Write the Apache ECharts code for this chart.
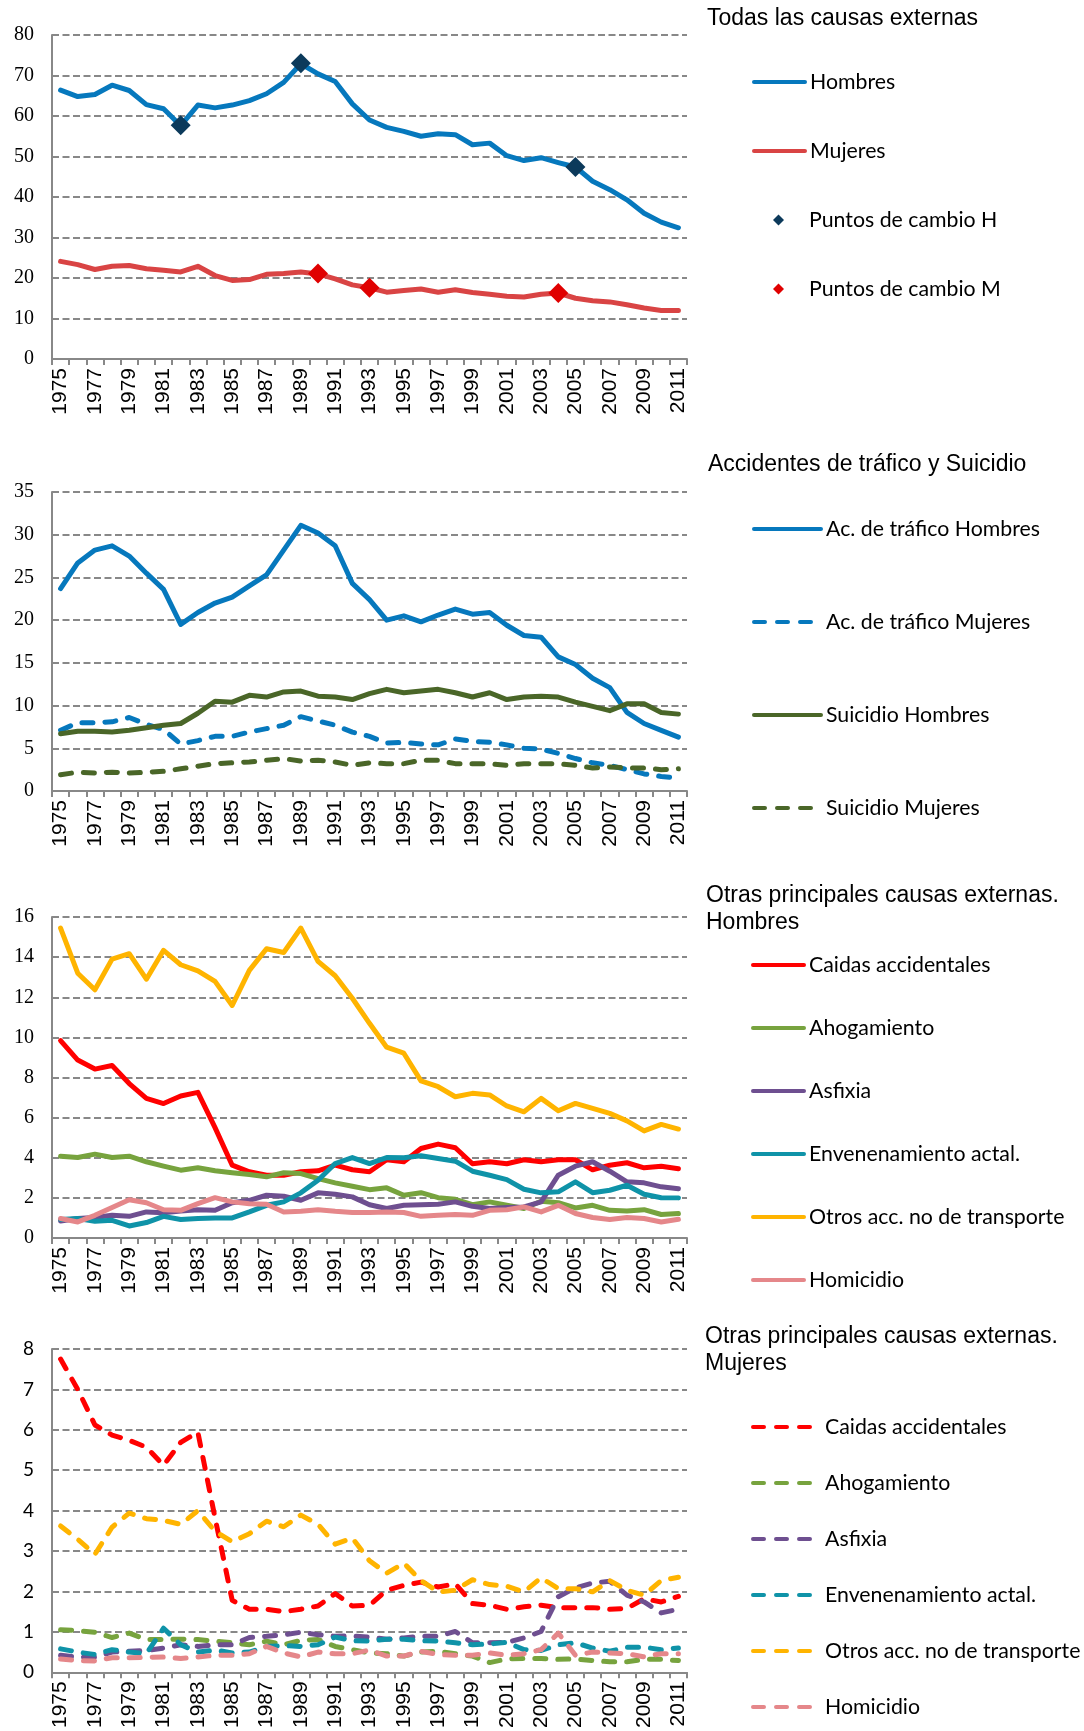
<!DOCTYPE html>
<html>
<head>
<meta charset="utf-8">
<script src="https://cdn.jsdelivr.net/npm/echarts@6/dist/echarts.min.js"></script>
<style>html,body{margin:0;padding:0;background:#fff;}#c{width:1084px;height:1731px;}</style>
</head>
<body>
<div id="c"></div>
<script>
var years = [];
for (var y = 1975; y <= 2011; y++) years.push(String(y));

// Chart 1: Todas las causas externas
var totHombres = [66.4,64.8,65.3,67.6,66.3,62.8,61.8,57.6,62.7,62.0,62.7,63.8,65.5,68.3,72.9,70.4,68.5,63.0,59.0,57.2,56.2,55.0,55.6,55.4,52.9,53.3,50.2,49.0,49.7,48.5,47.4,43.9,41.8,39.3,36.0,33.8,32.4];
var totMujeres = [24.1,23.3,22.1,22.9,23.1,22.3,21.9,21.5,22.9,20.6,19.4,19.6,20.9,21.1,21.5,21.0,19.8,18.3,17.6,16.5,16.9,17.3,16.5,17.1,16.4,16.0,15.5,15.3,16.0,16.3,15.0,14.4,14.1,13.4,12.6,12.0,12.0];
var cambioHYears = ['1982','1989','2005'];
var cambioHValues = [57.7,73.0,47.4];
var cambioMYears = ['1990','1993','2004'];
var cambioMValues = [21.1,17.6,16.3];

// Chart 2: Accidentes de tráfico y Suicidio
var traficoH = [23.7,26.7,28.2,28.7,27.5,25.5,23.6,19.5,20.9,22.0,22.7,24.0,25.3,28.2,31.1,30.2,28.7,24.3,22.4,20.0,20.5,19.8,20.6,21.3,20.7,20.9,19.4,18.2,18.0,15.7,14.8,13.2,12.1,9.2,7.9,7.1,6.3];
var traficoM = [7.1,8.0,8.0,8.1,8.6,7.8,7.2,5.5,5.9,6.4,6.4,6.9,7.3,7.7,8.7,8.2,7.7,6.9,6.4,5.6,5.7,5.5,5.4,6.1,5.8,5.7,5.4,5.0,4.9,4.4,3.8,3.3,3.0,2.5,2.0,1.7,1.5];
var suicidioH = [6.7,7.0,7.0,6.9,7.1,7.4,7.7,7.9,9.1,10.5,10.4,11.2,11.0,11.6,11.7,11.1,11.0,10.7,11.4,11.9,11.5,11.7,11.9,11.5,11.0,11.5,10.7,11.0,11.1,11.0,10.4,9.9,9.4,10.2,10.2,9.2,9.0];
var suicidioM = [1.9,2.2,2.1,2.2,2.1,2.2,2.3,2.6,2.9,3.2,3.3,3.4,3.6,3.8,3.5,3.6,3.4,3.0,3.3,3.2,3.2,3.6,3.6,3.2,3.2,3.2,3.0,3.2,3.2,3.2,3.0,2.7,2.8,2.7,2.7,2.5,2.6];

// Chart 3: Otras principales causas externas. Hombres
var hCaidas = [9.84,8.87,8.42,8.6,7.7,6.96,6.7,7.08,7.26,5.5,3.63,3.3,3.13,3.13,3.3,3.35,3.63,3.4,3.3,3.9,3.8,4.46,4.68,4.5,3.7,3.8,3.7,3.9,3.8,3.9,3.9,3.4,3.63,3.75,3.5,3.58,3.45];
var hAhogamiento = [4.08,4.01,4.18,4.01,4.08,3.8,3.58,3.38,3.5,3.35,3.25,3.16,3.05,3.25,3.21,2.96,2.75,2.58,2.41,2.5,2.13,2.26,2.01,1.93,1.66,1.8,1.63,1.47,1.83,1.76,1.5,1.63,1.38,1.35,1.41,1.17,1.22];
var hAsfixia = [0.85,0.97,1.02,1.13,1.08,1.3,1.26,1.35,1.41,1.38,1.76,1.88,2.13,2.08,1.88,2.25,2.18,2.05,1.66,1.47,1.63,1.66,1.68,1.8,1.58,1.47,1.52,1.55,1.8,3.13,3.58,3.8,3.33,2.8,2.75,2.55,2.46];
var hEnvenenamiento = [0.92,0.97,0.83,0.88,0.6,0.77,1.08,0.92,0.97,1.0,1.0,1.3,1.63,1.8,2.25,2.88,3.71,4.01,3.71,4.01,4.0,4.1,3.96,3.83,3.33,3.13,2.91,2.43,2.25,2.3,2.8,2.26,2.38,2.63,2.18,2.01,2.0];
var hOtros = [15.45,13.2,12.37,13.9,14.17,12.9,14.34,13.62,13.32,12.79,11.59,13.34,14.42,14.23,15.45,13.79,13.07,11.95,10.7,9.51,9.21,7.83,7.54,7.04,7.21,7.13,6.58,6.29,6.96,6.34,6.71,6.46,6.21,5.84,5.34,5.66,5.43];
var hHomicidio = [0.97,0.8,1.13,1.52,1.91,1.76,1.41,1.38,1.71,2.01,1.8,1.71,1.68,1.3,1.33,1.41,1.33,1.27,1.27,1.3,1.27,1.08,1.13,1.17,1.13,1.38,1.41,1.55,1.3,1.63,1.22,1.02,0.92,1.02,0.97,0.8,0.93];

// Chart 4: Otras principales causas externas. Mujeres
var mCaidas = [7.75,7.0,6.12,5.87,5.74,5.57,5.12,5.69,5.94,3.82,1.78,1.56,1.56,1.5,1.56,1.64,1.95,1.64,1.66,2.03,2.15,2.23,2.11,2.19,1.7,1.66,1.56,1.62,1.66,1.6,1.6,1.6,1.56,1.58,1.82,1.74,1.88];
var mAhogamiento = [1.05,1.03,0.99,0.86,0.97,0.81,0.81,0.82,0.81,0.77,0.73,0.68,0.77,0.68,0.79,0.81,0.64,0.56,0.48,0.46,0.4,0.5,0.52,0.46,0.4,0.24,0.33,0.34,0.34,0.32,0.33,0.29,0.26,0.26,0.32,0.32,0.29];
var mAsfixia = [0.42,0.37,0.38,0.5,0.52,0.54,0.6,0.68,0.64,0.68,0.68,0.86,0.89,0.93,0.99,0.93,0.89,0.9,0.87,0.82,0.85,0.89,0.89,1.01,0.73,0.73,0.74,0.85,1.01,1.87,2.09,2.21,2.25,1.91,1.74,1.47,1.56];
var mEnvenenamiento = [0.58,0.5,0.44,0.56,0.5,0.46,1.09,0.68,0.5,0.55,0.48,0.5,0.64,0.66,0.64,0.68,0.87,0.78,0.77,0.82,0.82,0.78,0.77,0.73,0.68,0.7,0.74,0.56,0.54,0.68,0.73,0.6,0.52,0.62,0.62,0.56,0.6];
var mOtros = [3.62,3.29,2.92,3.59,3.94,3.8,3.76,3.66,4.0,3.49,3.23,3.43,3.74,3.6,3.89,3.66,3.17,3.32,2.76,2.45,2.7,2.27,1.99,2.03,2.29,2.17,2.13,1.99,2.34,2.07,2.07,1.99,2.27,2.03,1.91,2.27,2.35];
var mHomicidio = [0.33,0.29,0.28,0.36,0.36,0.37,0.38,0.34,0.38,0.42,0.42,0.46,0.64,0.48,0.38,0.5,0.46,0.46,0.55,0.4,0.4,0.52,0.44,0.42,0.42,0.48,0.42,0.46,0.56,0.97,0.42,0.5,0.48,0.46,0.38,0.46,0.46];

var causeNames = ['Caidas accidentales','Ahogamiento','Asfixia','Envenenamiento actal.','Otros acc. no de transporte','Homicidio'];
var causeColors = ['#FF0000','#77A33E','#6E4F90','#0F93A8','#FFB400','#E5878A'];
var hData = [hCaidas,hAhogamiento,hAsfixia,hEnvenenamiento,hOtros,hHomicidio];
var mData = [mCaidas,mAhogamiento,mAsfixia,mEnvenenamiento,mOtros,mHomicidio];

var GRID_GREY = '#888888';
var DASH = [11, 12];
var LW = 5;

var grids = [
  {left:52, width:635, top:35, height:324},
  {left:52, width:635, top:492, height:299},
  {left:52, width:635, top:917, height:321},
  {left:52, width:635, top:1349, height:327}
];
var yMax = [80, 35, 16, 8];
var yInt = [10, 5, 2, 1];

function xAxis(i){
  return {type:'category', gridIndex:i, data:years, boundaryGap:true,
    axisLine:{lineStyle:{color:GRID_GREY, width:2}},
    axisTick:{show:true, interval:0, length:6, lineStyle:{color:GRID_GREY, width:2}},
    axisLabel:{interval:1, rotate:90, margin:9, fontFamily:'Liberation Sans', fontSize:21, color:'#000'}};
}
function yAxis(i){
  return {type:'value', gridIndex:i, min:0, max:yMax[i], interval:yInt[i],
    axisLine:{show:true, lineStyle:{color:GRID_GREY, width:2}},
    axisTick:{show:false},
    splitLine:{show:true, lineStyle:{color:GRID_GREY, width:2, type:[7,3.5]}},
    axisLabel:{margin:18, fontFamily: i===3 ? 'Lato' : 'Liberation Serif', fontSize: i===3 ? 19 : 20, color:'#000'}};
}
function line(name, data, color, gi, dashed){
  return {name:name, type:'line', xAxisIndex:gi, yAxisIndex:gi, data:data, symbol:'none', showSymbol:false,
    lineStyle:{color:color, width:LW, type: dashed ? DASH : 'solid', cap:'round', join:'round'},
    itemStyle:{color:color}, emphasis:{disabled:true}, silent:true, animation:false};
}
function pairs(ys, vs){ return ys.map(function(y,k){ return [y, vs[k]]; }); }

var series = [
  line('Hombres', totHombres, '#0678BD', 0, false),
  line('Mujeres', totMujeres, '#D94444', 0, false),
  {name:'Puntos de cambio H', type:'scatter', xAxisIndex:0, yAxisIndex:0, data:pairs(cambioHYears, cambioHValues),
    symbol:'diamond', symbolSize:20, itemStyle:{color:'#0C3A5B', opacity:1}, z:5, silent:true, animation:false},
  {name:'Puntos de cambio M', type:'scatter', xAxisIndex:0, yAxisIndex:0, data:pairs(cambioMYears, cambioMValues),
    symbol:'diamond', symbolSize:20, itemStyle:{color:'#E00000', opacity:1}, z:5, silent:true, animation:false},
  line('Ac. de tráfico Hombres', traficoH, '#0678BD', 1, false),
  line('Ac. de tráfico Mujeres', traficoM, '#0678BD', 1, true),
  line('Suicidio Hombres', suicidioH, '#4A6628', 1, false),
  line('Suicidio Mujeres', suicidioM, '#4A6628', 1, true)
];
causeNames.forEach(function(n,k){ series.push(line(n + ' (H)', hData[k], causeColors[k], 2, false)); });
causeNames.forEach(function(n,k){ series.push(line(n + ' (M)', mData[k], causeColors[k], 3, true)); });

var legendText = {fontFamily:'Lato', fontSize:21.3, lineHeight:24, color:'#000'};
function strip(n){ return n.replace(/ \((H|M)\)$/, ''); }
var titleStyle = {fontFamily:'Liberation Sans', fontSize:23, fontWeight:'normal', color:'#000', lineHeight:27};
var hideSym = {opacity:0, borderWidth:0};
var legendLine = {width:4};

var option = {
  backgroundColor:'#fff',
  animation:false,
  title:[
    {text:'Todas las causas externas', left:707, top:5, padding:0, textStyle:titleStyle},
    {text:'Accidentes de tráfico y Suicidio', left:708, top:451, padding:0, textStyle:titleStyle},
    {text:'Otras principales causas externas.\nHombres', left:706, top:882, padding:0, textStyle:titleStyle},
    {text:'Otras principales causas externas.\nMujeres', left:705, top:1323, padding:0, textStyle:titleStyle}
  ],
  grid: grids,
  xAxis: [xAxis(0), xAxis(1), xAxis(2), xAxis(3)],
  yAxis: [yAxis(0), yAxis(1), yAxis(2), yAxis(3)],
  legend:[
    {orient:'vertical', left:752, top:70, padding:0, itemWidth:51, itemHeight:11, itemGap:45, selectedMode:false,
      textStyle:legendText, lineStyle:legendLine, itemStyle:hideSym,
      data:['Hombres','Mujeres']},
    {orient:'vertical', left:773, top:208, padding:0, itemWidth:11, itemHeight:11, itemGap:45, selectedMode:false,
      icon:'diamond', textStyle:Object.assign({}, legendText, {padding:[0,0,0,20]}),
      data:['Puntos de cambio H','Puntos de cambio M']},
    {orient:'vertical', left:752, top:517, padding:0, itemWidth:67, itemHeight:11, itemGap:69, selectedMode:false,
      textStyle:legendText, lineStyle:legendLine, itemStyle:hideSym,
      data:['Ac. de tráfico Hombres','Ac. de tráfico Mujeres','Suicidio Hombres','Suicidio Mujeres']},
    {orient:'vertical', left:751, top:953, padding:0, itemWidth:51, itemHeight:11, itemGap:39, selectedMode:false,
      textStyle:legendText, lineStyle:legendLine, itemStyle:hideSym, formatter:strip,
      data:causeNames.map(function(n){return n+' (H)';})},
    {orient:'vertical', left:751, top:1415, padding:0, itemWidth:67, itemHeight:11, itemGap:32, selectedMode:false,
      textStyle:legendText, lineStyle:legendLine, itemStyle:hideSym, formatter:strip,
      data:causeNames.map(function(n){return n+' (M)';})}
  ],
  series: series
};
var chart = echarts.init(document.getElementById('c'), null, {renderer:'canvas', width:1084, height:1731});
chart.setOption(option);
</script>
</body>
</html>
